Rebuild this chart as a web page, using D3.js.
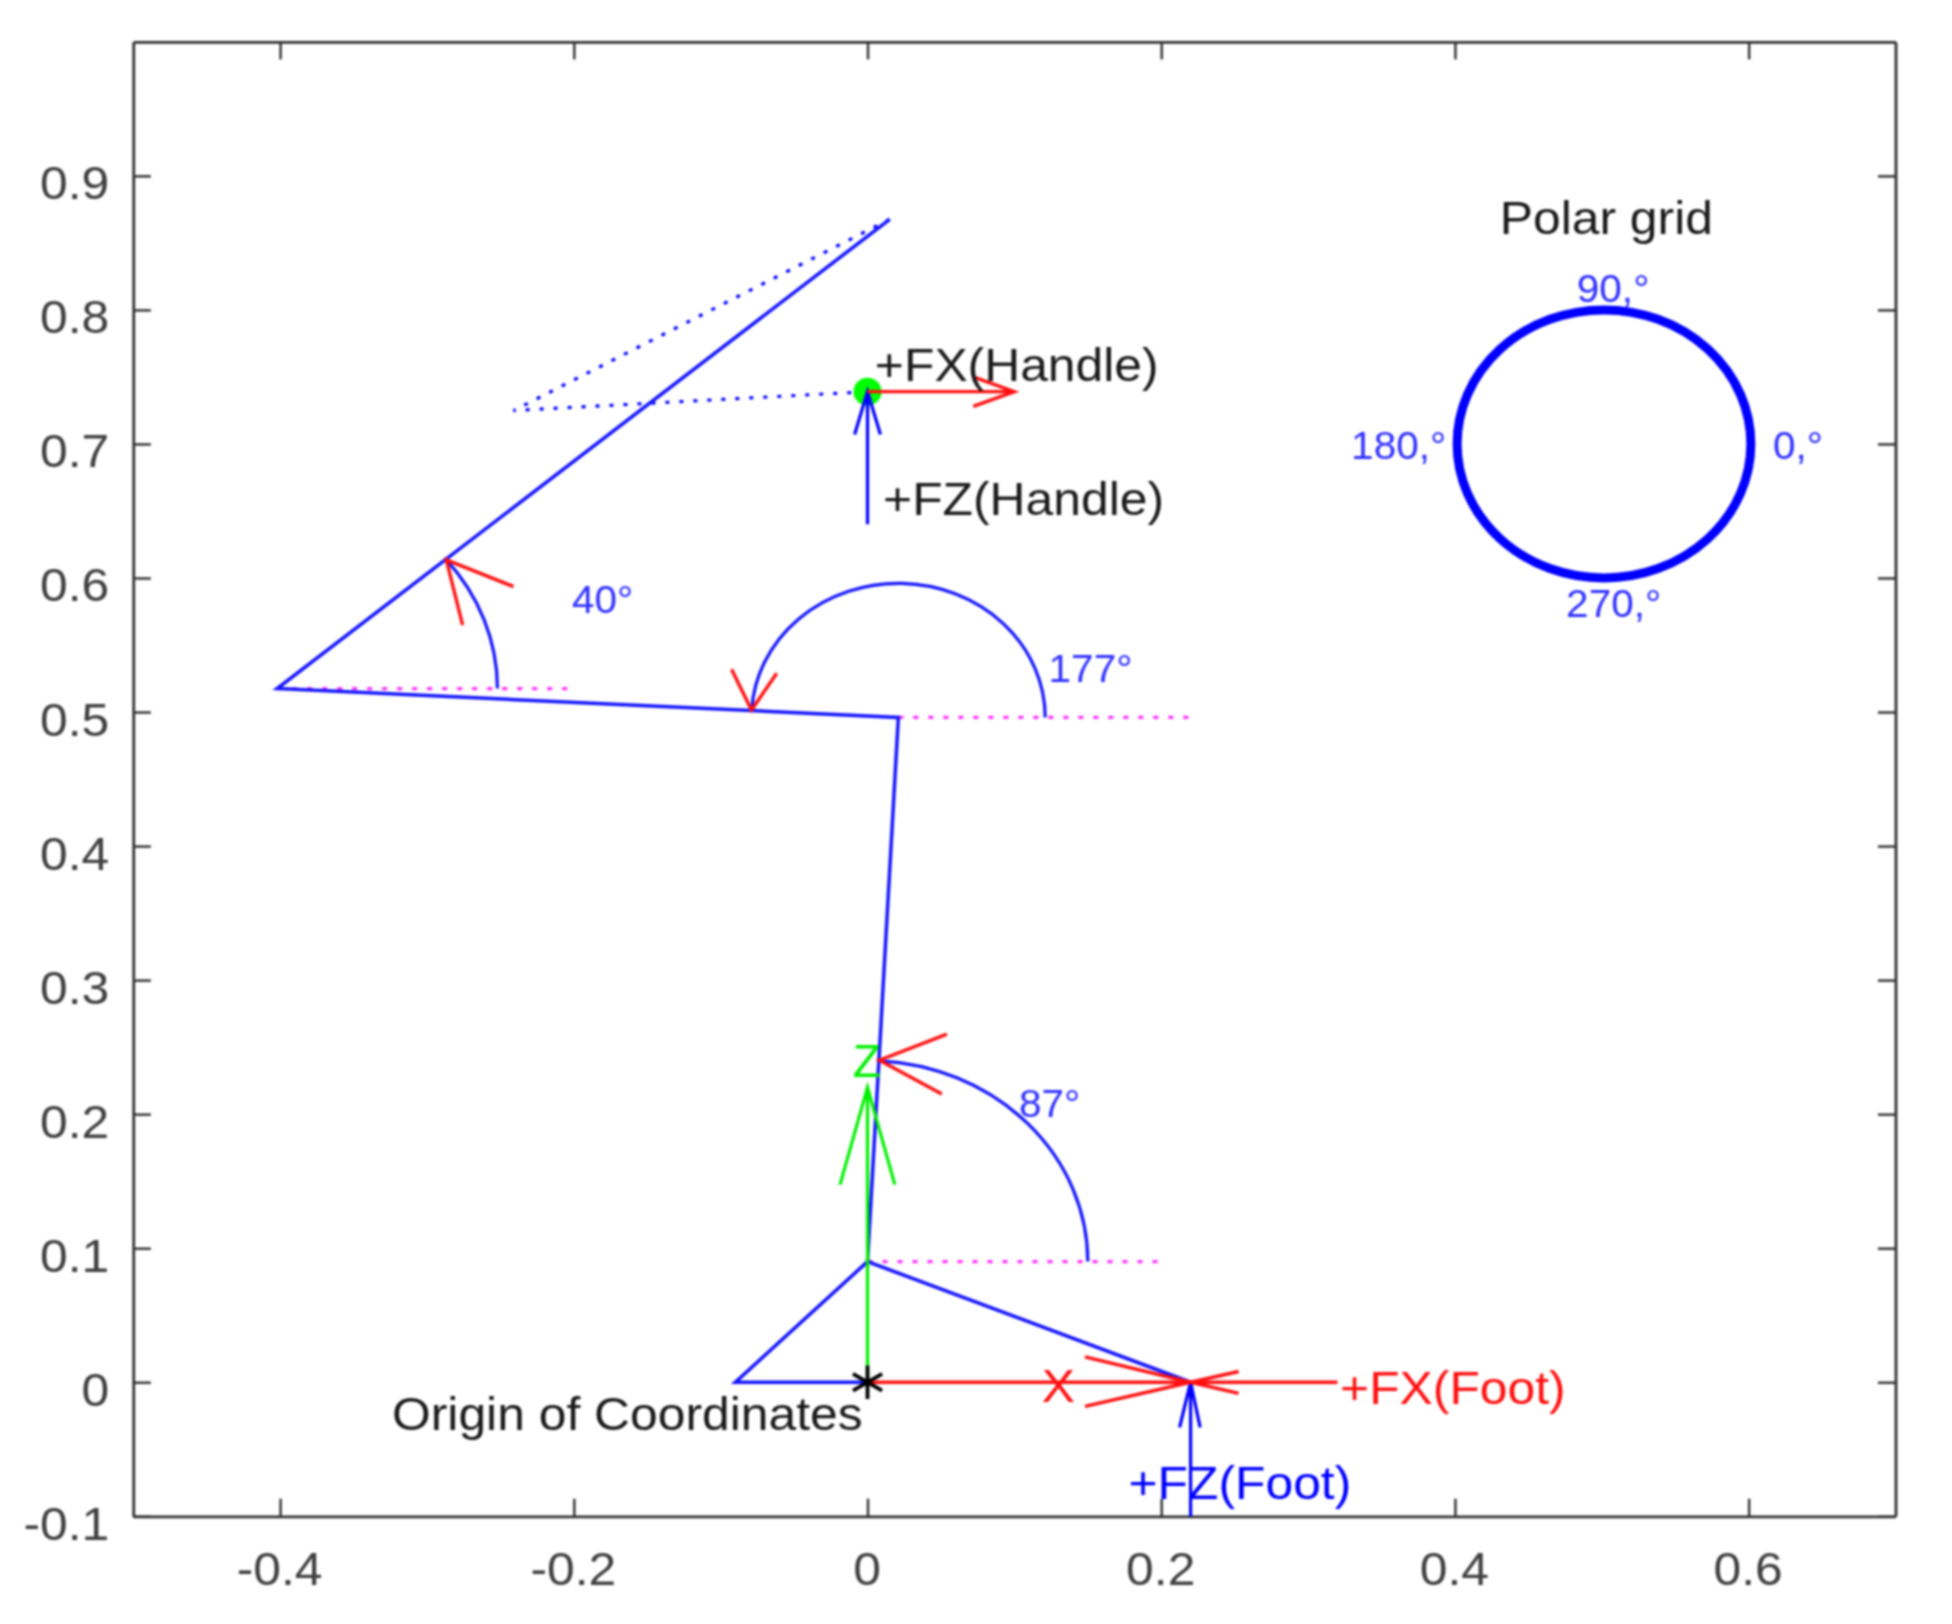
<!DOCTYPE html>
<html>
<head>
<meta charset="utf-8">
<title>Polar grid</title>
<script src="https://cdnjs.cloudflare.com/ajax/libs/d3/7.8.5/d3.min.js"></script>
<style>
  html, body { margin: 0; padding: 0; background: #fff; }
  svg { display: block; filter: blur(0.9px); font-family: "Liberation Sans", Arial, sans-serif; }
</style>
</head>
<body>
<div id="chart"></div>
<script>
const xTicks = [-0.4, -0.2, 0, 0.2, 0.4, 0.6];
const xTickLabels = ["-0.4", "-0.2", "0", "0.2", "0.4", "0.6"];
const yTicks = [-0.1, 0, 0.1, 0.2, 0.3, 0.4, 0.5, 0.6, 0.7, 0.8, 0.9];
const yTickLabels = ["-0.1", "0", "0.1", "0.2", "0.3", "0.4", "0.5", "0.6", "0.7", "0.8", "0.9"];

// body segments, [x, z]
const footLine = [[0, 0], [-0.09, 0], [0, 0.09], [0.22, 0]];
const bodyLine = [[0, 0.09], [0.021, 0.496], [-0.402, 0.5175], [0.0151, 0.8676]];
const handleDotted = [[0.0151, 0.8676], [-0.241, 0.7249], [0, 0.739]];

// horizontal reference lines
const refLines = [
  [[-0.402, 0.5175], [-0.202, 0.5175]],
  [[0.021, 0.496], [0.22, 0.496]],
  [[0, 0.09], [0.2, 0.09]]
];

// joint angles: centre, radius, degrees
const angleCentres = [[-0.402, 0.5175], [0.021, 0.496], [0, 0.09]];
const angleRadii = [0.15, 0.1, 0.15];
const angleDegrees = [40, 177, 87];

// arrow shafts
const redShafts = [[[0, 0], [0.22, 0]], [[0.32, 0], [0.22, 0]], [[0, 0.739], [0.1, 0.739]]];
const blueShafts = [[[0, 0.64], [0, 0.739]], [[0.22, -0.1], [0.22, 0]]];
const greenShafts = [[[0, 0], [0, 0.22]]];

// arrow heads: barb, tip, barb
const redHeads = [
  [[0.1481, 0.019], [0.22, 0], [0.1481, -0.018]],
  [[0.2527, 0.008], [0.22, 0], [0.2527, -0.0083]],
  [[0.072, 0.75], [0.1, 0.739], [0.072, 0.728]],
  [[-0.2411, 0.5936], [-0.2868, 0.6135], [-0.2757, 0.5648]],
  [[-0.0926, 0.532], [-0.079, 0.5015], [-0.0618, 0.5289]],
  [[0.0541, 0.2597], [0.0081, 0.2403], [0.0506, 0.2151]]
];
const blueHeads = [
  [[-0.0088, 0.707], [0, 0.739], [0.0088, 0.707]],
  [[0.2125, -0.0336], [0.22, 0], [0.2265, -0.0336]]
];
const greenHeads = [[[-0.0187, 0.1474], [0, 0.22], [0.0186, 0.1474]]];

const polarCentre = [0.5015, 0.7];
const polarRadius = 0.1;
const handlePoint = [0, 0.739];
const originPoint = [0, 0];

const blackLabels = ["+FX(Handle)", "+FZ(Handle)", "Polar grid", "Origin of Coordinates"];
const blackLabelAt = [[0.005, 0.749], [0.0106, 0.6486], [0.4305, 0.8582], [-0.3238, -0.0337]];
const redLabels = ["X", "+FX(Foot)"];
const redLabelAt = [[0.1187, -0.0128], [0.3218, -0.0143]];
const blueLabels = ["+FZ(Foot)"];
const blueLabelAt = [[0.1777, -0.0849]];
const greenLabels = ["Z"];
const greenLabelAt = [[-0.0101, 0.2295]];
const smallLabels = ["90,°", "270,°", "180,°", "0,°", "40°", "177°", "87°"];
const smallLabelAt = [[0.483, 0.8067], [0.4757, 0.5718], [0.3293, 0.6896], [0.6166, 0.6896],
  [-0.2012, 0.5748], [0.1233, 0.5233], [0.1032, 0.199]];

const width = 1952;
const height = 1624;
const tickLen = 17.6;
const axisColor = "#303030";
// the picture is a little wider than it is tall, so text gets stretched along x
const stretch = 1.083;

const x = d3.scaleLinear().domain([-0.5, 0.7]).range([133.25, 1895.5]);
const y = d3.scaleLinear().domain([-0.1, 1.0]).range([1516.3, 41.8]);
const line = d3.line().x(d => x(d[0])).y(d => y(d[1]));

const svg = d3
  .select("#chart")
  .append("svg")
  .attr("viewBox", [0, 0, width, height])
  .attr("width", width)
  .attr("height", height);

svg.append("rect").attr("width", width).attr("height", height).attr("fill", "#fff");

function drawLines(data, color, strokeWidth, dash) {
  svg.append("g")
    .selectAll("path")
    .data(data)
    .join("path")
    .attr("d", line)
    .attr("fill", "none")
    .attr("stroke", color)
    .attr("stroke-width", strokeWidth)
    .attr("stroke-dasharray", dash || null);
}

function drawLabels(texts, at, color, size, sx, nudge) {
  svg.append("g")
    .selectAll("text")
    .data(texts)
    .join("text")
    .attr("transform", (d, i) => `translate(${x(at[i][0])},${y(at[i][1]) + nudge}) scale(${sx},1)`)
    .attr("fill", color)
    .attr("font-size", size)
    .text(d => d);
}

// axes, box on with ticks pointing inwards
function styleAxis(g) {
  g.select(".domain").attr("stroke", axisColor).attr("stroke-width", 2.8);
  g.selectAll(".tick line").attr("stroke", axisColor).attr("stroke-width", 2.4);
  g.selectAll("text").attr("font-family", "Liberation Sans").attr("font-size", 46).attr("fill", "#404040");
}

svg.append("g")
  .attr("transform", `translate(0,${y(-0.1)})`)
  .call(d3.axisBottom(x).tickValues(xTicks).tickSize(-tickLen).tickSizeOuter(0).tickFormat((d, i) => xTickLabels[i]))
  .call(styleAxis)
  .call(g => g.selectAll("text").attr("y", 0).attr("dy", 0).attr("transform", `translate(-1,69) scale(${stretch},1)`));

svg.append("g")
  .attr("transform", `translate(${x(-0.5)},0)`)
  .call(d3.axisLeft(y).tickValues(yTicks).tickSize(-tickLen).tickSizeOuter(0).tickFormat((d, i) => yTickLabels[i]))
  .call(styleAxis)
  .call(g => g.selectAll("text").attr("x", 0).attr("dy", 0).attr("y", 0).attr("transform", `translate(-24,23) scale(${stretch},1)`));

svg.append("g")
  .attr("transform", `translate(0,${y(1.0)})`)
  .call(d3.axisTop(x).tickValues(xTicks).tickSize(-tickLen).tickSizeOuter(0).tickFormat(""))
  .call(styleAxis);

svg.append("g")
  .attr("transform", `translate(${x(0.7)},0)`)
  .call(d3.axisRight(y).tickValues(yTicks).tickSize(-tickLen).tickSizeOuter(0).tickFormat(""))
  .call(styleAxis);

// polar grid
svg.append("ellipse")
  .attr("cx", x(polarCentre[0]))
  .attr("cy", y(polarCentre[1]))
  .attr("rx", x(polarCentre[0] + polarRadius) - x(polarCentre[0]))
  .attr("ry", y(polarCentre[1]) - y(polarCentre[1] + polarRadius))
  .attr("fill", "none")
  .attr("stroke", "#0000ff")
  .attr("stroke-width", 9);

drawLines(refLines, "#ff33ff", 3.2, "5 10");
drawLines([handleDotted], "#0000ff", 3.2, "4 10");

svg.append("circle")
  .attr("cx", x(handlePoint[0]))
  .attr("cy", y(handlePoint[1]))
  .attr("r", 14)
  .attr("fill", "#00ff00");

drawLines([footLine, bodyLine], "#1414ff", 3.5);

// joint angle arcs, radii go through the scales so they follow the unequal axes
svg.append("g")
  .selectAll("path")
  .data(angleDegrees)
  .join("path")
  .attr("d", (deg, i) => {
    const [cx, cz] = angleCentres[i];
    const r = angleRadii[i];
    const a = deg * Math.PI / 180;
    const rx = x(cx + r) - x(cx);
    const ry = y(cz) - y(cz + r);
    return `M${x(cx + r)},${y(cz)}A${rx},${ry} 0 0 0 ${x(cx + r * Math.cos(a))},${y(cz + r * Math.sin(a))}`;
  })
  .attr("fill", "none")
  .attr("stroke", "#1414ff")
  .attr("stroke-width", 3.2);

drawLines(greenShafts.concat(greenHeads), "#00f000", 3.2);
drawLines(blueShafts.concat(blueHeads), "#0000ff", 3.2);
drawLines(redShafts.concat(redHeads), "#ff1010", 3.4);

svg.append("path")
  .attr("transform", `translate(${x(originPoint[0])},${y(originPoint[1])})`)
  .attr("d", d3.symbol().type(d3.symbolAsterisk).size(800))
  .attr("fill", "none")
  .attr("stroke", "#000")
  .attr("stroke-width", 3.8);

drawLabels(blackLabels, blackLabelAt, "#1a1a1a", 46, stretch, 2.5);
drawLabels(redLabels, redLabelAt, "#ff1010", 46, stretch, 2.5);
drawLabels(blueLabels, blueLabelAt, "#0000ff", 46, stretch, 2.5);
drawLabels(greenLabels, greenLabelAt, "#00f000", 46, 1, 2);
drawLabels(smallLabels, smallLabelAt, "#3030ff", 38, 1.066, 1.5);
</script>
</body>
</html>
